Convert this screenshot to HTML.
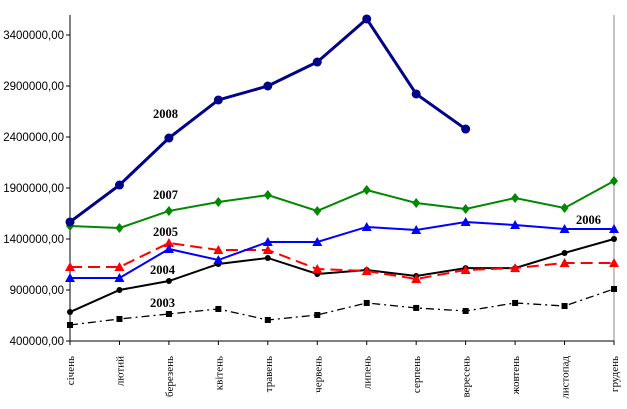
<!DOCTYPE html>
<html><head><meta charset="utf-8"><style>
body{margin:0;background:#fff}
svg{display:block}
</style></head><body>
<svg id="chart" width="627" height="409" xmlns="http://www.w3.org/2000/svg"></svg>
<script>
const categories=["січень","лютий","березень","квітень","травень","червень","липень","серпень","вересень","жовтень","листопад","грудень"];
const yTicks=[400000,900000,1400000,1900000,2400000,2900000,3400000];
const s2008=[1567000,1929000,2390000,2763000,2900000,3135000,3557000,2822000,2478000];
const s2007=[1527000,1508000,1675000,1763000,1831000,1675000,1880000,1753000,1694000,1802000,1704000,1969000];
const s2006=[1018000,1018000,1302000,1194000,1371000,1371000,1518000,1488000,1567000,1537000,1498000,1498000];
const s2005=[1125000,1125000,1361000,1292000,1292000,1106000,1086000,1008000,1096000,1115000,1165000,1165000];
const s2004=[684000,900000,988000,1155000,1214000,1057000,1096000,1037000,1115000,1115000,1263000,1400000];
const s2003=[557000,616000,665000,714000,606000,655000,773000,724000,694000,773000,743000,910000];

const NS="http://www.w3.org/2000/svg";
const svg=document.getElementById('chart');
const L=70,R=614,B=341,PX=51/500000;
const x=i=>L+i*(R-L)/(categories.length-1);
const y=v=>B-(v-400000)*PX;
function mk(t,a,p){const e=document.createElementNS(NS,t);for(const k in a)e.setAttribute(k,a[k]);(p||svg).appendChild(e);return e;}

const right=mk('line',{x1:R,y1:15,x2:R,y2:B,stroke:'#888','stroke-width':1});


const yax=mk('line',{x1:L,y1:15,x2:L,y2:B,stroke:'#000','stroke-width':1});


const xax=mk('line',{x1:L,y1:B,x2:R,y2:B,stroke:'#000','stroke-width':1});



yTicks.forEach(v=>{
  mk('line',{x1:L-4,y1:y(v),x2:L,y2:y(v),stroke:'#000'});
  const t=mk('text',{x:L-6,y:y(v)+4,'text-anchor':'end','font-family':'Liberation Sans, sans-serif','font-size':'11.5'});
  t.textContent=v+',00';
  
  
});
categories.forEach((c,i)=>{
  mk('line',{x1:x(i),y1:B,x2:x(i),y2:B+4,stroke:'#000'});
  const t=mk('text',{transform:`translate(${x(i)+4},356) rotate(-90)`,'text-anchor':'end','font-family':'Liberation Serif, serif','font-size':'11'});
  t.textContent=c;
  
  
});

function marker(type,cx,cy,col,g){
  if(type==='circle')mk('circle',{cx,cy,r:4.5,fill:col},g);
  else if(type==='diamond')mk('polygon',{points:`${cx},${cy-5} ${cx+4},${cy} ${cx},${cy+5} ${cx-4},${cy}`,fill:col},g);
  else if(type==='tri')mk('polygon',{points:`${cx},${cy-5} ${cx+5},${cy+4} ${cx-5},${cy+4}`,fill:col},g);
  else if(type==='dot')mk('circle',{cx,cy,r:3,fill:col},g);
  else if(type==='sq')mk('rect',{x:cx-3,y:cy-3,width:6,height:6,fill:col},g);
}
function series(name,data,col,w,dash,mtype){
  const g=mk('g',{});
  
  
  const pts=data.map((v,i)=>x(i)+','+y(v)).join(' ');
  const a={points:pts,fill:'none',stroke:col,'stroke-width':w};
  if(dash)a['stroke-dasharray']=dash;
  mk('polyline',a,g);
  data.forEach((v,i)=>marker(mtype,x(i),y(v),col,g));
}
series('2003',s2003,'#000',1.3,'8 4 2 4','sq');
series('2004',s2004,'#000',2,null,'dot');
series('2005',s2005,'#f00',2,'12 6','tri');
series('2006',s2006,'#00f',2,null,'tri');
series('2007',s2007,'#080',2,null,'diamond');
series('2008',s2008,'#00008b',3,null,'circle');

[['2008',153,118],['2007',153,199],['2005',153,236],['2006',576,224],['2004',150,274],['2003',150,307]].forEach(([t,lx,ly])=>{
  const e=mk('text',{x:lx,y:ly,'font-family':'Liberation Serif, serif','font-size':'12.5','font-weight':'bold'});
  e.textContent=t;
  
  
});
</script>
</body></html>
